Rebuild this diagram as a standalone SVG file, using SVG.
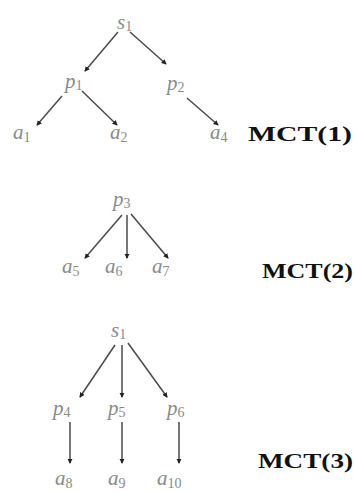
<svg xmlns="http://www.w3.org/2000/svg" width="354" height="491" viewBox="0 0 354 491">
<style>
.m{font-family:"Liberation Serif","DejaVu Serif",serif;font-style:italic;font-size:21px;fill:#8a8a8a}
.s{font-size:14px;font-style:normal}
.t{font-family:"Liberation Serif","DejaVu Serif",serif;font-weight:bold;font-size:21px;fill:#111}
.e{stroke:#4a4a4a;stroke-width:1.5;fill:none;marker-end:url(#h)}
</style>
<defs>
<marker id="h" viewBox="0 0 6 6" refX="5" refY="3" markerWidth="3.5" markerHeight="3.5" orient="auto" markerUnits="strokeWidth">
<path d="M0,0 L6,3 L0,6 Z" fill="#222"/>
</marker>
</defs>
<rect width="354" height="491" fill="#fff"/>
<g id="connectors">
<line class="e" x1="118" y1="32" x2="85" y2="71"/>
<line class="e" x1="130" y1="32" x2="166" y2="64"/>
<line class="e" x1="62" y1="96" x2="37" y2="125"/>
<line class="e" x1="82" y1="91" x2="117" y2="125"/>
<line class="e" x1="187" y1="98" x2="218" y2="125"/>
<line class="e" x1="122" y1="215" x2="85" y2="258"/>
<line class="e" x1="127" y1="215" x2="127" y2="258"/>
<line class="e" x1="131" y1="214" x2="168" y2="258"/>
<line class="e" x1="115" y1="345" x2="80" y2="397"/>
<line class="e" x1="122" y1="345" x2="122" y2="397"/>
<line class="e" x1="128" y1="343" x2="167" y2="397"/>
<line class="e" x1="70" y1="422" x2="70" y2="463"/>
<line class="e" x1="122" y1="422" x2="122" y2="463"/>
<line class="e" x1="179" y1="422" x2="179" y2="463"/>
</g>
<g id="mct1-s1"><text class="m" x="117" y="29">s<tspan class="s" dy="2">1</tspan></text></g>
<g id="mct1-p1"><text class="m" x="65" y="88">p<tspan class="s" dy="2">1</tspan></text></g>
<g id="mct1-p2"><text class="m" x="167" y="90">p<tspan class="s" dy="2">2</tspan></text></g>
<g id="mct1-a1"><text class="m" x="13" y="139">a<tspan class="s" dy="3">1</tspan></text></g>
<g id="mct1-a2"><text class="m" x="110" y="139">a<tspan class="s" dy="3">2</tspan></text></g>
<g id="mct1-a4"><text class="m" x="210" y="139">a<tspan class="s" dy="3">4</tspan></text></g>
<g id="mct1-label"><text class="t" x="248" y="141" textLength="104" lengthAdjust="spacingAndGlyphs">MCT(1)</text></g>
<g id="mct2-p3"><text class="m" x="113" y="206">p<tspan class="s" dy="2">3</tspan></text></g>
<g id="mct2-a5"><text class="m" x="62" y="273">a<tspan class="s" dy="3">5</tspan></text></g>
<g id="mct2-a6"><text class="m" x="105" y="273">a<tspan class="s" dy="3">6</tspan></text></g>
<g id="mct2-a7"><text class="m" x="152" y="273">a<tspan class="s" dy="3">7</tspan></text></g>
<g id="mct2-label"><text class="t" x="262" y="278" textLength="91" lengthAdjust="spacingAndGlyphs">MCT(2)</text></g>
<g id="mct3-s1"><text class="m" x="111" y="337">s<tspan class="s" dy="2">1</tspan></text></g>
<g id="mct3-p4"><text class="m" x="53" y="415">p<tspan class="s" dy="2">4</tspan></text></g>
<g id="mct3-p5"><text class="m" x="108" y="415">p<tspan class="s" dy="2">5</tspan></text></g>
<g id="mct3-p6"><text class="m" x="167" y="415">p<tspan class="s" dy="2">6</tspan></text></g>
<g id="mct3-a8"><text class="m" x="55" y="485">a<tspan class="s" dy="3">8</tspan></text></g>
<g id="mct3-a9"><text class="m" x="108" y="485">a<tspan class="s" dy="3">9</tspan></text></g>
<g id="mct3-a10"><text class="m" x="157" y="485">a<tspan class="s" dy="3">10</tspan></text></g>
<g id="mct3-label"><text class="t" x="258" y="468" textLength="95" lengthAdjust="spacingAndGlyphs">MCT(3)</text></g>
</svg>
